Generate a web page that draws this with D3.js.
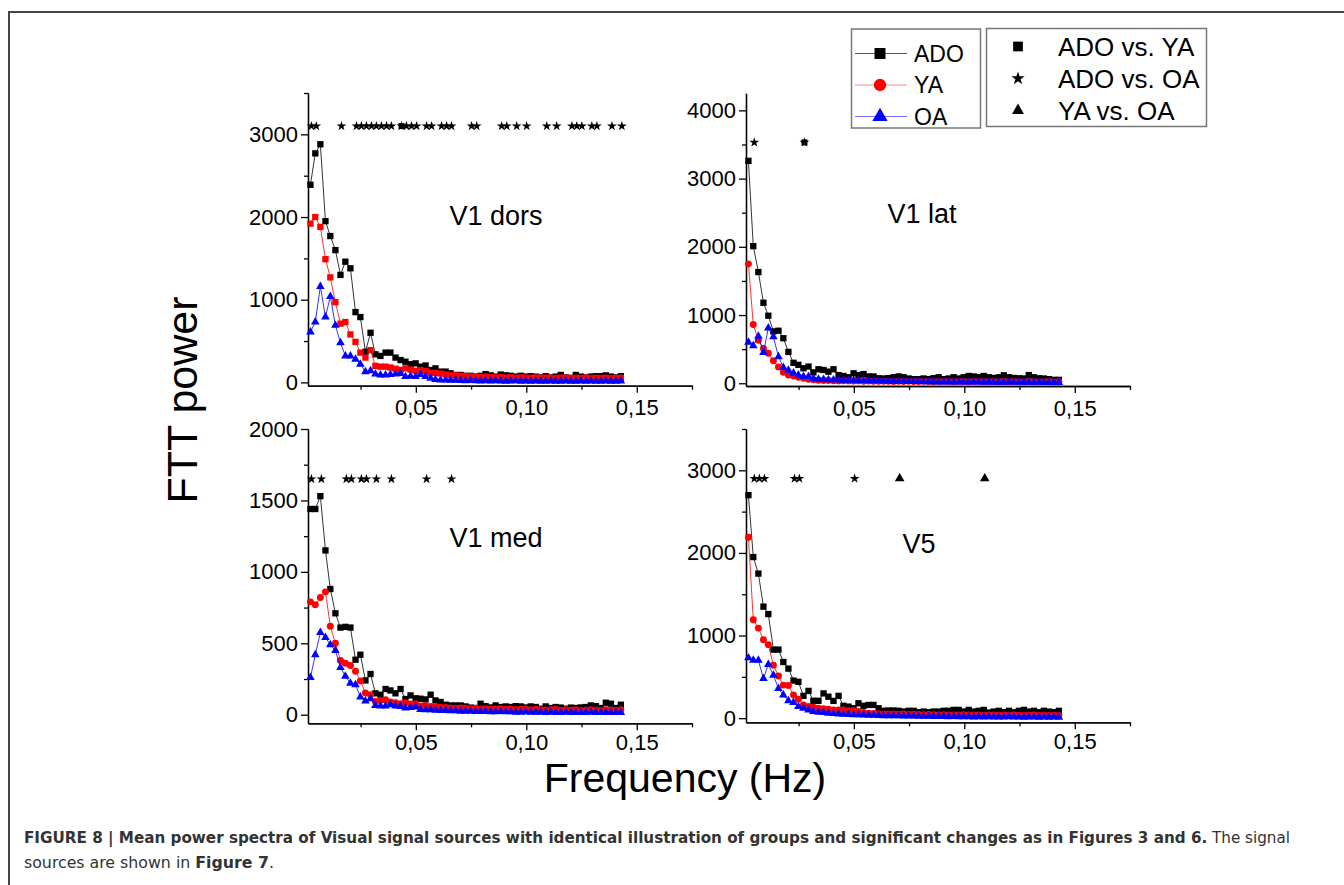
<!DOCTYPE html>
<meta charset="utf-8">
<style>
body { margin: 0; background: #fff; }
svg { display: block; font-family: "Liberation Sans", Arial, sans-serif; }
.axis path, .axis line { stroke: #000; stroke-width: 1.3; }
.axis text { font-size: 22px; fill: #000; font-family: "Liberation Sans", Arial, sans-serif; }
.title { font-size: 27px; }
.big { font-size: 41px; }
.legend text { font-size: 23px; }
.caption { font-family: "Liberation Sans Narrow", "DejaVu Sans Condensed", sans-serif; font-size: 15px; fill: #333; }
</style>
<svg width="1344" height="885"></svg>
<script src="https://cdn.jsdelivr.net/npm/d3@7"></script>
<script>
// frequency bins (Hz)
var freq = [0.0023, 0.0045, 0.0068, 0.0091, 0.0113, 0.0136, 0.0159, 0.0181, 0.0204, 0.0227,
            0.0249, 0.0272, 0.0295, 0.0317, 0.0340, 0.0363, 0.0385, 0.0408, 0.0431, 0.0453,
            0.0476, 0.0499, 0.0521, 0.0544, 0.0567, 0.0589, 0.0612, 0.0635, 0.0657, 0.0680,
            0.0703, 0.0725, 0.0748, 0.0771, 0.0793, 0.0816, 0.0839, 0.0861, 0.0884, 0.0907,
            0.0929, 0.0952, 0.0975, 0.0997, 0.1020, 0.1043, 0.1065, 0.1088, 0.1111, 0.1133,
            0.1156, 0.1179, 0.1202, 0.1224, 0.1247, 0.1270, 0.1292, 0.1315, 0.1338, 0.1360,
            0.1383, 0.1406, 0.1428];
var xTicks = [0.05, 0.10, 0.15],
    xMinor = [0.025, 0.075, 0.125, 0.175];
var groups = ["ADO", "YA", "OA"];
var tests = ["ADO vs. YA", "ADO vs. OA", "YA vs. OA"];

// V1 dors
var dorsADO = [2390, 2770, 2880, 1950, 1770, 1600, 1300, 1460, 1380, 850,
               790, 370, 600, 340, 320, 360, 360, 300, 270, 250,
               220, 230, 190, 205, 150, 170, 130, 130, 110, 90,
               90, 80, 80, 70, 80, 100, 85, 70, 95, 85,
               80, 70, 80, 70, 75, 70, 60, 75, 60, 70,
               90, 60, 55, 90, 70, 60, 70, 75, 75, 85,
               70, 60, 75];
var dorsYA = [1920, 2000, 1880, 1490, 1270, 970, 710, 730, 580, 490,
              360, 300, 390, 200, 190, 190, 180, 165, 150, 170,
              155, 140, 150, 137, 115, 115, 108, 96, 88, 85,
              80, 75, 72, 70, 65, 68, 62, 60, 65, 58,
              62, 55, 60, 58, 55, 60, 52, 58, 55, 50,
              58, 55, 50, 55, 52, 58, 50, 55, 52, 55,
              50, 52, 55];
var dorsOA = [610, 730, 1160, 790, 1040, 690, 480, 320, 320, 280,
              220, 130, 140, 100, 90, 90, 95, 100, 108, 70,
              75, 70, 95, 70, 50, 35, 30, 28, 25, 25,
              22, 20, 22, 20, 18, 20, 18, 20, 18, 15,
              18, 20, 15, 18, 15, 18, 15, 15, 18, 15,
              15, 18, 15, 15, 18, 15, 18, 15, 15, 18,
              15, 15, 18];
var dorsStar = [1, 2, 7, 10, 11, 12, 13, 14, 15, 16, 17, 19, 20, 21, 22, 24, 25, 27, 28, 29,
                33, 34, 39, 40, 42, 44, 48, 50, 53, 54, 55, 57, 58, 61, 63];
var dorsSquare = [19];

// V1 lat
var latADO = [3260, 2010, 1630, 1180, 990, 760, 770, 660, 460, 300,
              270, 220, 245, 160, 205, 195, 170, 205, 120, 107,
              88, 146, 120, 135, 100, 100, 73, 70, 75, 88,
              100, 88, 70, 60, 60, 70, 60, 75, 88, 60,
              70, 88, 70, 88, 107, 100, 88, 107, 88, 78,
              88, 117, 88, 78, 73, 70, 120, 88, 73, 70,
              60, 50, 50];
var latYA = [1750, 860, 630, 510, 440, 330, 240, 160, 122, 107,
             88, 73, 60, 50, 45, 42, 40, 38, 35, 38,
             35, 32, 35, 30, 32, 30, 28, 30, 28, 25,
             28, 25, 28, 25, 25, 28, 25, 22, 25, 28,
             25, 22, 25, 25, 22, 25, 28, 25, 22, 25,
             22, 25, 22, 25, 22, 20, 25, 22, 20, 22,
             25, 20, 22];
var latOA = [600, 550, 690, 450, 810, 680, 390, 230, 190, 150,
             120, 100, 100, 70, 60, 55, 52, 50, 48, 45,
             45, 42, 40, 40, 38, 35, 35, 32, 30, 30,
             28, 28, 25, 25, 25, 22, 22, 22, 20, 20,
             20, 18, 18, 20, 18, 18, 18, 15, 18, 15,
             15, 15, 18, 15, 15, 15, 15, 12, 15, 12,
             12, 12, 12];
var latStar = [2, 12];
var latSquare = [12];

// V1 med
var medADO = [1440, 1440, 1530, 1150, 880, 710, 610, 615, 610, 385,
              420, 240, 285, 150, 140, 180, 170, 150, 180, 110,
              135, 115, 112, 107, 140, 100, 89, 70, 65, 65,
              65, 58, 50, 47, 77, 60, 51, 65, 54, 58,
              54, 60, 58, 51, 58, 54, 42, 58, 47, 54,
              50, 42, 50, 47, 51, 54, 65, 60, 47, 84,
              77, 47, 70];
var medYA = [790, 770, 820, 860, 620, 500, 380, 360, 345, 305,
             236, 152, 140, 93, 100, 105, 89, 84, 77, 84,
             75, 77, 61, 65, 58, 55, 52, 50, 48, 45,
             48, 45, 42, 45, 40, 42, 38, 40, 42, 38,
             40, 35, 38, 40, 35, 38, 35, 32, 35, 38,
             32, 35, 32, 35, 30, 32, 35, 32, 30, 35,
             32, 30, 35];
var medOA = [260, 420, 575, 540, 490, 450, 330, 270, 220, 210,
             124, 96, 112, 65, 61, 61, 70, 61, 58, 47,
             50, 54, 37, 35, 35, 32, 30, 30, 28, 28,
             25, 25, 25, 22, 22, 22, 20, 20, 22, 20,
             20, 18, 18, 20, 18, 18, 18, 15, 18, 15,
             15, 18, 15, 15, 15, 15, 18, 15, 15, 15,
             15, 15, 15];
var medStar = [1, 3, 8, 9, 11, 12, 14, 17, 24, 29];

// V5
var v5ADO = [2700, 1950, 1750, 1350, 1260, 830, 830, 680, 600, 455,
             440, 270, 330, 210, 210, 300, 260, 209, 270, 150,
             140, 120, 180, 150, 160, 160, 120, 89, 93, 93,
             89, 80, 89, 89, 72, 80, 72, 80, 80, 89,
             89, 100, 100, 80, 100, 80, 89, 100, 68, 80,
             89, 72, 89, 72, 89, 100, 80, 89, 72, 89,
             80, 72, 89];
var v5YA = [2190, 1190, 1090, 950, 890, 640, 510, 400, 395, 280,
            230, 160, 141, 133, 121, 113, 109, 100, 100, 100,
            89, 93, 80, 68, 60, 58, 55, 52, 50, 52,
            48, 50, 45, 48, 45, 42, 45, 42, 40, 42,
            40, 38, 40, 42, 38, 40, 38, 35, 38, 40,
            35, 38, 35, 38, 35, 32, 35, 38, 32, 35,
            32, 35, 32];
var v5OA = [730, 700, 700, 480, 650, 520, 360, 280, 210, 190,
            140, 121, 100, 80, 72, 68, 60, 55, 50, 48,
            45, 42, 40, 38, 35, 35, 32, 30, 30, 28,
            28, 25, 25, 25, 22, 22, 22, 20, 20, 20,
            18, 20, 18, 18, 18, 15, 18, 15, 18, 15,
            15, 15, 18, 15, 15, 12, 15, 15, 12, 15,
            12, 15, 12];
var v5Star = [2, 3, 4, 10, 11, 22];
var v5Tri = [31, 48];

var svg = d3.select("svg");
var fmtX = function(d) { return d3.format(".2f")(d).replace(".", ","); };
var fmtY = d3.format("d");

// page frame
svg.append("path").attr("d", "M9,885V12H1344").attr("fill", "none").attr("stroke", "#444").attr("stroke-width", 2);

var colors = {ADO: "#000", YA: "#ff0000", OA: "#0000ff"};

var panels = [
  {name: "V1 dors", left: 308, right: 692, top: 93, bottom: 385.7, yDomain: [-40, 3500],
   yTicks: [0, 1000, 2000, 3000], yMinor: [500, 1500, 2500, 3500], tx: 496, ty: 225, pad: 7,
   data: [dorsADO, dorsYA, dorsOA], yaSymbol: d3.symbolSquare, sigLevel: 3100,
   sig: [[dorsSquare, d3.symbolSquare, 36], [dorsStar, d3.symbolStar, 30]]},
  {name: "V1 lat", left: 746, right: 1130, top: 93.3, bottom: 386, yDomain: [-40, 4250],
   yTicks: [0, 1000, 2000, 3000, 4000], yMinor: [500, 1500, 2500, 3500], tx: 922, ty: 223, pad: 7,
   data: [latADO, latYA, latOA], yaSymbol: d3.symbolCircle, sigLevel: 3530,
   sig: [[latSquare, d3.symbolSquare, 36], [latStar, d3.symbolStar, 30]]},
  {name: "V1 med", left: 308, right: 692, top: 429, bottom: 723.3, yDomain: [-60, 2000],
   yTicks: [0, 500, 1000, 1500, 2000], yMinor: [250, 750, 1250, 1750], tx: 496, ty: 547, pad: 4,
   data: [medADO, medYA, medOA], yaSymbol: d3.symbolCircle, sigLevel: 1650,
   sig: [[medStar, d3.symbolStar, 30]]},
  {name: "V5", left: 746, right: 1130, top: 429, bottom: 722.3, yDomain: [-50, 3500],
   yTicks: [0, 1000, 2000, 3000], yMinor: [500, 1500, 2500, 3500], tx: 919, ty: 553, pad: 4,
   data: [v5ADO, v5YA, v5OA], yaSymbol: d3.symbolCircle, sigLevel: 2900,
   sig: [[v5Star, d3.symbolStar, 30], [v5Tri, d3.symbolTriangle, 40]]}
];

panels.forEach(function(p) {
  var x = d3.scaleLinear().domain([0.0012, 0.175]).range([p.left, p.right]),
      y = d3.scaleLinear().domain(p.yDomain).range([p.bottom, p.top]);
  var g = svg.append("g");

  g.append("g").attr("class", "axis").attr("transform", "translate(0," + p.bottom + ")")
      .call(d3.axisBottom(x).tickValues(xMinor).tickSize(4).tickSizeOuter(0).tickFormat(""));
  g.append("g").attr("class", "axis").attr("transform", "translate(0," + p.bottom + ")")
      .call(d3.axisBottom(x).tickValues(xTicks).tickSize(7).tickSizeOuter(0).tickPadding(p.pad).tickFormat(fmtX));
  g.append("g").attr("class", "axis").attr("transform", "translate(" + p.left + ",0)")
      .call(d3.axisLeft(y).tickValues(p.yMinor).tickSize(4).tickSizeOuter(0).tickFormat(""));
  g.append("g").attr("class", "axis").attr("transform", "translate(" + p.left + ",0)")
      .call(d3.axisLeft(y).tickValues(p.yTicks).tickSize(7).tickSizeOuter(0).tickPadding(3).tickFormat(fmtY));
  g.selectAll(".axis .domain").attr("stroke-width", 1.5);

  g.append("text").attr("class", "title").attr("x", p.tx).attr("y", p.ty)
      .attr("text-anchor", "middle").text(p.name);

  var line = d3.line()
      .x(function(d, i) { return x(freq[i]); })
      .y(function(d) { return y(d); });
  var symbols = [[d3.symbolSquare, 40], [p.yaSymbol, p.yaSymbol === d3.symbolSquare ? 40 : 38], [d3.symbolTriangle, 32]];

  p.data.forEach(function(vals, j) {
    var c = colors[groups[j]];
    g.append("path").datum(vals).attr("d", line)
        .attr("fill", "none").attr("stroke", c).attr("stroke-width", 0.8);
    g.selectAll(null).data(vals).enter().append("path")
        .attr("d", d3.symbol().type(symbols[j][0]).size(symbols[j][1]))
        .attr("transform", function(d, i) { return "translate(" + x(freq[i]) + "," + y(d) + ")"; })
        .attr("fill", c);
  });

  p.sig.forEach(function(s) {
    g.selectAll(null).data(s[0]).enter().append("path")
        .attr("d", d3.symbol().type(s[1]).size(s[2]))
        .attr("transform", function(k) { return "translate(" + (x(freq[k - 1]) + 1) + "," + y(p.sigLevel) + ")"; })
        .attr("fill", "#000");
  });
});

// axis titles
svg.append("text").attr("class", "big").attr("text-anchor", "middle").style("font-size", "43px")
    .attr("transform", "translate(197,400) rotate(-90)").text("FTT power");
svg.append("text").attr("class", "big").attr("text-anchor", "middle")
    .attr("x", 685).attr("y", 792).text("Frequency (Hz)");

// legend: groups
var leg1 = svg.append("g").attr("class", "legend");
leg1.append("rect").attr("x", 851.5).attr("y", 29).attr("width", 129).attr("height", 99)
    .attr("fill", "#fff").attr("stroke", "#777").attr("stroke-width", 1.5);
var legSym = [[d3.symbolSquare, 120], [d3.symbolCircle, 120], [d3.symbolTriangle, 100]];
var legLine = {ADO: "#555", YA: "#f88", OA: "#77f"};
groups.forEach(function(name, i) {
  var cy = 53.5 + i * 31.5;
  leg1.append("line").attr("x1", 855).attr("x2", 907).attr("y1", cy).attr("y2", cy)
      .attr("stroke", legLine[name]).attr("stroke-width", 1);
  leg1.append("path").attr("d", d3.symbol().type(legSym[i][0]).size(legSym[i][1]))
      .attr("transform", "translate(880," + cy + ")").attr("fill", colors[name]);
  leg1.append("text").attr("x", 914).attr("y", cy + 8).text(name);
});

// legend: significance
var leg2 = svg.append("g").attr("class", "legend");
leg2.append("rect").attr("x", 986.5).attr("y", 28.5).attr("width", 220).attr("height", 98)
    .attr("fill", "#fff").attr("stroke", "#777").attr("stroke-width", 1.5);
var sigSym = [[d3.symbolSquare, 95], [d3.symbolStar, 55], [d3.symbolTriangle, 62]];
tests.forEach(function(name, i) {
  var cy = 46.5 + i * 32;
  leg2.append("path").attr("d", d3.symbol().type(sigSym[i][0]).size(sigSym[i][1]))
      .attr("transform", "translate(1018," + cy + ")").attr("fill", "#000");
  leg2.append("text").attr("x", 1058).attr("y", cy + 9).style("font-size", "26px").text(name);
});

// caption
var cap1 = svg.append("text").attr("class", "caption").attr("x", 24).attr("y", 843)
    .attr("textLength", 1266).attr("lengthAdjust", "spacingAndGlyphs");
cap1.append("tspan").attr("font-weight", "bold")
    .text("FIGURE 8 | Mean power spectra of Visual signal sources with identical illustration of groups and significant changes as in Figures 3 and 6.");
cap1.append("tspan").text(" The signal");
var cap2 = svg.append("text").attr("class", "caption").attr("x", 24).attr("y", 868)
    .attr("textLength", 250).attr("lengthAdjust", "spacingAndGlyphs");
cap2.append("tspan").text("sources are shown in ");
cap2.append("tspan").attr("font-weight", "bold").text("Figure 7");
cap2.append("tspan").text(".");
</script>
